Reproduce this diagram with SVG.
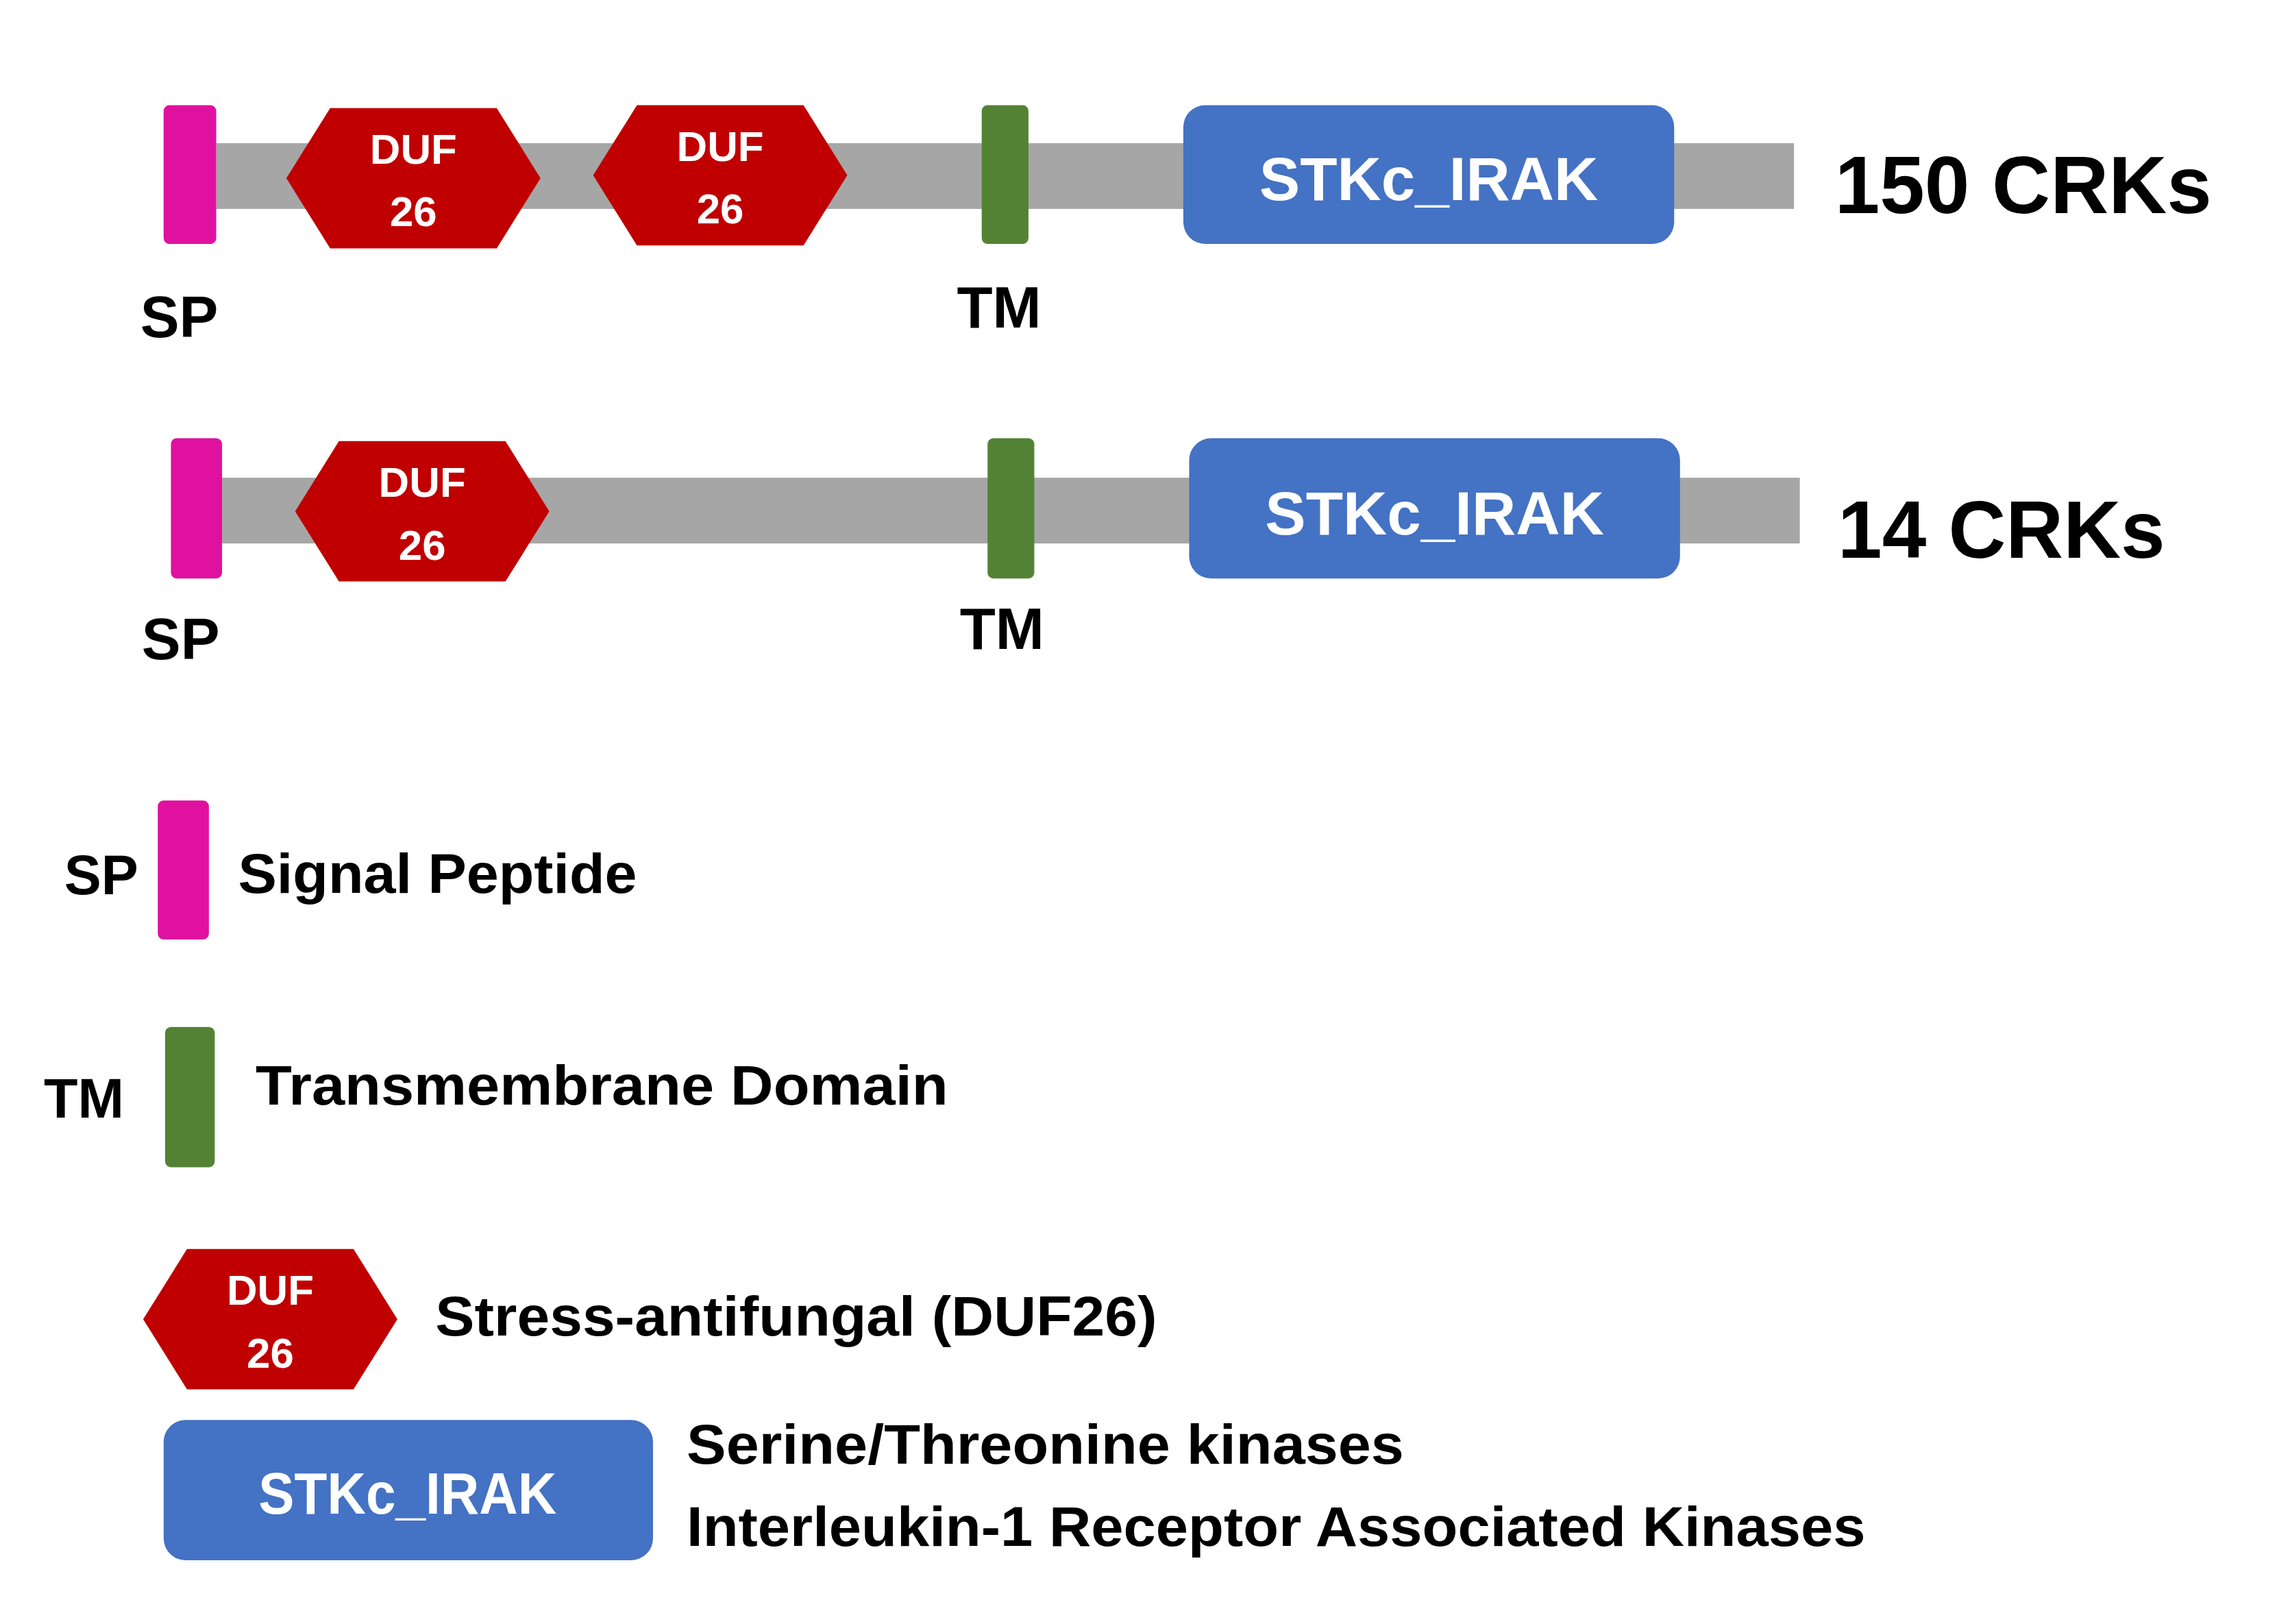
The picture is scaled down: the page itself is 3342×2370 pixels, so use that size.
<svg xmlns="http://www.w3.org/2000/svg" width="3342" height="2370" viewBox="0 0 3342 2370">
<style>
.bar{fill:#a6a6a6}
.sp{fill:#e0119e}
.tm{fill:#548235}
.duf{fill:#c00000}
.stk{fill:#4472c4}
text{font-family:"Liberation Sans","Open Sans",sans-serif;font-weight:bold}
.w{fill:#fff}
.k{fill:#000}
</style>
<defs>
<polygon id="hex" points="0,48 30,0 144,0 174,48 144,96 30,96"/>
</defs>
<rect width="3342" height="2370" fill="#fff"/>
<g transform="scale(2.132)">
<g id="row1">
<rect class="bar" x="148" y="98" width="1080" height="45"/>
<rect class="sp" x="112" y="72" width="36" height="95" rx="4"/>
<use href="#hex" class="duf" x="196" y="74"/>
<text class="w" x="283" y="112" font-size="29" text-anchor="middle">DUF</text>
<text class="w" x="283" y="155" font-size="29" text-anchor="middle">26</text>
<use href="#hex" class="duf" x="406" y="72"/>
<text class="w" x="493" y="110" font-size="29" text-anchor="middle">DUF</text>
<text class="w" x="493" y="153" font-size="29" text-anchor="middle">26</text>
<rect class="tm" x="672" y="72" width="32" height="95" rx="4"/>
<rect class="stk" x="810" y="72" width="336" height="95" rx="15"/>
<text class="w" x="978" y="137" font-size="42" text-anchor="middle" textLength="232" lengthAdjust="spacingAndGlyphs">STKc_IRAK</text>
<text class="k" x="1256" y="146" font-size="56" textLength="258" lengthAdjust="spacingAndGlyphs">150 CRKs</text>
<text class="k" x="96" y="231" font-size="40">SP</text>
<text class="k" x="655" y="224" font-size="40">TM</text>
</g>
<g id="row2">
<rect class="bar" x="152" y="327" width="1080" height="45"/>
<rect class="sp" x="117" y="300" width="35" height="96" rx="4"/>
<use href="#hex" class="duf" x="202" y="302"/>
<text class="w" x="289" y="340" font-size="29" text-anchor="middle">DUF</text>
<text class="w" x="289" y="383" font-size="29" text-anchor="middle">26</text>
<rect class="tm" x="676" y="300" width="32" height="96" rx="4"/>
<rect class="stk" x="814" y="300" width="336" height="96" rx="15"/>
<text class="w" x="982" y="366" font-size="42" text-anchor="middle" textLength="232" lengthAdjust="spacingAndGlyphs">STKc_IRAK</text>
<text class="k" x="1258" y="382" font-size="56" textLength="224" lengthAdjust="spacingAndGlyphs">14 CRKs</text>
<text class="k" x="97" y="451" font-size="40">SP</text>
<text class="k" x="657" y="444" font-size="40">TM</text>
</g>
<g id="legend-sp">
<text class="k" x="44" y="612" font-size="38">SP</text>
<rect class="sp" x="108" y="548" width="35" height="95" rx="4"/>
<text class="k" x="163" y="611" font-size="38" textLength="273" lengthAdjust="spacingAndGlyphs">Signal Peptide</text>
</g>
<g id="legend-tm">
<text class="k" x="30" y="765" font-size="38">TM</text>
<rect class="tm" x="113" y="703" width="34" height="96" rx="4"/>
<text class="k" x="175" y="756" font-size="38" textLength="474" lengthAdjust="spacingAndGlyphs">Transmembrane Domain</text>
</g>
<g id="legend-duf">
<use href="#hex" class="duf" x="98" y="855"/>
<text class="w" x="185" y="893" font-size="29" text-anchor="middle">DUF</text>
<text class="w" x="185" y="936" font-size="29" text-anchor="middle">26</text>
<text class="k" x="298" y="914" font-size="38" textLength="494" lengthAdjust="spacingAndGlyphs">Stress-antifungal (DUF26)</text>
</g>
<g id="legend-stk">
<rect class="stk" x="112" y="972" width="335" height="96" rx="15"/>
<text class="w" x="279" y="1036" font-size="40" text-anchor="middle" textLength="204" lengthAdjust="spacingAndGlyphs">STKc_IRAK</text>
<text class="k" x="470" y="1002" font-size="38" textLength="491" lengthAdjust="spacingAndGlyphs">Serine/Threonine kinases</text>
<text class="k" x="470" y="1058" font-size="38" textLength="807" lengthAdjust="spacingAndGlyphs">Interleukin-1 Receptor Associated Kinases</text>
</g>
</g>
</svg>
